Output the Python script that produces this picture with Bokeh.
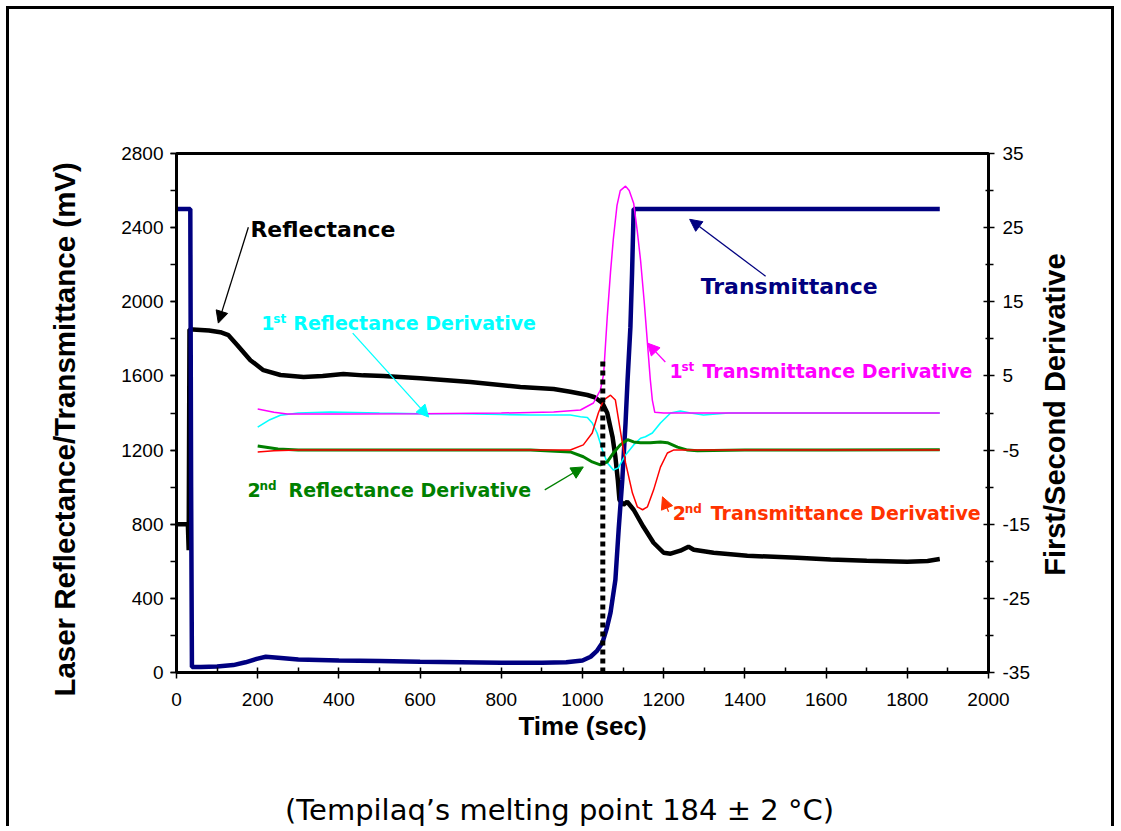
import math
from bokeh.plotting import figure
from bokeh.models import (Range1d, LinearAxis, SingleIntervalTicker, FixedTicker, Label, Arrow,
                          NormalHead, PrintfTickFormatter)
from bokeh.embed import file_html
from bokeh.resources import INLINE

# ---- data ----
time_refl = [0, 28, 30, 32, 40, 80, 108, 128, 150, 182, 214, 256, 313, 360, 411, 460, 510, 601, 724, 847,
             929, 970, 1012, 1030, 1049, 1061, 1074, 1081, 1087, 1091, 1101, 1110, 1126, 1150, 1175, 1200,
             1217, 1241, 1261, 1274, 1323, 1406, 1529, 1611, 1700, 1800, 1850, 1880]
reflectance = [800, 800, 660, 1850, 1850, 1845, 1836, 1820, 1766, 1685, 1631, 1605, 1594, 1600, 1610, 1603,
               1599, 1588, 1567, 1540, 1529, 1515, 1497, 1485, 1454, 1400, 1271, 1163, 1039, 932, 905, 921,
               878, 786, 700, 646, 641, 657, 679, 662, 646, 630, 619, 609, 603, 597, 602, 612]

time_trans = [0, 34, 36, 38, 60, 100, 140, 170, 200, 220, 250, 300, 400, 500, 600, 700, 800, 900, 960, 1000,
              1020, 1035, 1049, 1060, 1069, 1081, 1089, 1098, 1106, 1111, 1118, 1122, 1126, 1880]
transmittance = [2500, 2500, 1000, 30, 30, 32, 40, 55, 75, 85, 80, 70, 65, 62, 58, 55, 52, 52, 55, 65,
                 85, 115, 160, 240, 323, 500, 770, 1039, 1346, 1578, 1863, 2150, 2500, 2500]

time_d1r = [200, 230, 256, 300, 379, 500, 600, 700, 800, 872, 970, 995, 1012, 1024, 1036, 1049, 1061, 1076,
            1088, 1106, 1126, 1143, 1155, 1172, 1192, 1217, 1241, 1266, 1298, 1360, 1500, 1700, 1880]
d1_reflectance = [-1.9, -0.9, -0.3, 0.0, 0.13, 0.0, -0.1, -0.1, -0.2, -0.27, -0.27, -0.5, -0.6, -1.35, -2.7,
                  -5.0, -6.7, -7.7, -7.4, -5.65, -4.3, -3.4, -3.2, -2.7, -1.35, 0.0, 0.27, 0.0, -0.27, 0.0,
                  0.0, 0.0, 0.0]

time_d1t = [200, 240, 273, 400, 600, 800, 929, 995, 1027, 1044, 1052, 1061, 1069, 1076, 1085, 1093, 1106,
            1115, 1126, 1135, 1143, 1152, 1160, 1167, 1172, 1178, 1200, 1400, 1600, 1880]
d1_transmittance = [0.54, 0.1, -0.13, -0.13, -0.1, 0.0, 0.13, 0.4, 1.35, 3.1, 5.2, 13.0, 19.0, 23.5, 28.0,
                    30.0, 30.6, 30.0, 28.3, 24.5, 20.6, 15.0, 9.4, 4.5, 1.75, 0.1, 0.0, 0.0, 0.0, 0.0]

time_d2r = [200, 250, 300, 500, 700, 872, 970, 1002, 1024, 1044, 1061, 1076, 1093, 1111, 1126, 1143, 1167,
            1192, 1209, 1234, 1259, 1283, 1400, 1600, 1880]
d2_reflectance = [-4.44, -4.85, -5.0, -5.0, -5.0, -5.0, -5.25, -5.9, -6.6, -7.0, -6.6, -5.4, -4.3, -3.6,
                  -3.9, -4.0, -4.0, -3.9, -4.0, -4.6, -5.0, -5.1, -5.0, -5.0, -4.95]

time_d2t = [200, 240, 300, 600, 900, 970, 1002, 1024, 1039, 1052, 1069, 1081, 1093, 1106, 1123, 1135, 1148,
            1160, 1175, 1192, 1209, 1224, 1400, 1600, 1880]
d2_transmittance = [-5.25, -5.1, -5.0, -5.0, -5.0, -5.0, -4.3, -2.7, 0.0, 1.75, 2.4, 1.75, -2.3, -6.7,
                    -10.8, -12.65, -13.05, -12.65, -10.4, -7.3, -5.4, -5.0, -5.0, -5.0, -5.0]

melt_time = [1050, 1050]
melt_mark = [0, 1690]

right_ticks = [-35, -25, -15, -5, 5, 15, 25, 35]
right_minor_ticks = [-30, -20, -10, 0, 10, 20, 30]

NBSP = "\u00a0"

# ---- figure ----
p = figure(width=1102, height=817, x_range=Range1d(0, 2000), y_range=Range1d(0, 2800),
           output_backend="svg", toolbar_location=None,
           min_border_left=167, min_border_right=129, min_border_top=144, min_border_bottom=156)
p.extra_y_ranges = {"deriv": Range1d(-35, 35)}
p.styles = {"box-sizing": "content-box", "margin-left": "6px", "margin-top": "6px",
            "border-top": "3px solid black", "border-left": "3px solid black",
            "border-right": "3px solid black"}
p.background_fill_color = "white"
p.border_fill_color = "white"
p.xgrid.visible = False
p.ygrid.visible = False
p.outline_line_color = "black"
p.outline_line_width = 3

TICK_FONT = "Liberation Sans"
ANN_FONT = "DejaVu Sans"

xa = p.xaxis[0]
xa.ticker = SingleIntervalTicker(interval=200, num_minor_ticks=2)
xa.axis_label = "Time (sec)"
xa.axis_label_standoff = 2
xa.major_tick_out = 6
xa.major_tick_in = 0
xa.minor_tick_out = 0
xa.minor_tick_in = 5
xa.major_label_standoff = 14

ya = p.yaxis[0]
ya.ticker = SingleIntervalTicker(interval=400, num_minor_ticks=2)
ya.axis_label = "Laser Reflectance/Transmittance (mV)" + NBSP * 4
ya.axis_label_standoff = 37
ya.major_tick_out = 6
ya.major_tick_in = 0
ya.minor_tick_out = 6
ya.minor_tick_in = 0
ya.major_label_standoff = 7

ra = LinearAxis(y_range_name="deriv", ticker=FixedTicker(ticks=right_ticks, minor_ticks=right_minor_ticks),
                formatter=PrintfTickFormatter(format="%d"))
ra.major_tick_out = 6
ra.major_tick_in = 5
ra.minor_tick_out = 5
ra.minor_tick_in = 3
ra.major_label_standoff = 8
ra.axis_label_standoff = 22
right_title = "First/Second Derivative"
try:
    ra.axis_label_orientation = math.pi / 2
    ra.axis_label_align = "start"
    right_title = NBSP * 12 + right_title
except Exception:
    pass
ra.axis_label = right_title
p.add_layout(ra, "right")

for ax in (xa, ya, ra):
    ax.axis_line_color = "black"
    ax.axis_line_width = 3
    ax.major_tick_line_color = "black"
    ax.major_tick_line_width = 1.5
    ax.minor_tick_line_color = "black"
    ax.minor_tick_line_width = 1.5
    ax.major_label_text_font = TICK_FONT
    ax.major_label_text_font_size = "19px"
    ax.major_label_text_color = "black"
    ax.axis_label_text_font = TICK_FONT
    ax.axis_label_text_font_style = "bold"
    ax.axis_label_text_color = "black"
ya.axis_label_text_font_size = "29.5px"
ra.axis_label_text_font_size = "29px"
xa.axis_label_text_font_size = "26px"

# caption below the chart, carried by a bare extra axis
cap = LinearAxis(ticker=FixedTicker(ticks=[]))
cap.axis_line_color = None
cap.major_tick_line_color = None
cap.minor_tick_line_color = None
cap.major_tick_out = 0
cap.major_tick_in = 0
cap.minor_tick_out = 0
cap.minor_tick_in = 0
cap.major_label_text_font_size = "0px"
cap.major_label_standoff = 0
cap.axis_label = "(Tempilaq\u2019s melting point 184 \u00b1 2 \u00b0C)" + NBSP * 5
cap.axis_label_text_font = ANN_FONT
cap.axis_label_text_font_size = "29px"
cap.axis_label_text_font_style = "normal"
cap.axis_label_text_color = "black"
cap.axis_label_standoff = 49
p.add_layout(cap, "below")

# ---- series ----
p.line(time_refl, reflectance, line_color="black", line_width=4.5)
p.line(time_trans, transmittance, line_color="#000080", line_width=4.5)
p.line(time_d1r, d1_reflectance, line_color="#00FFFF", line_width=1.6, y_range_name="deriv")
p.line(time_d1t, d1_transmittance, line_color="#FF00FF", line_width=1.5, y_range_name="deriv")
p.line(time_d2r, d2_reflectance, line_color="#008000", line_width=3, y_range_name="deriv")
p.line(time_d2t, d2_transmittance, line_color="#FF0000", line_width=1.5, y_range_name="deriv")
p.line(melt_time, melt_mark, line_color="black", line_width=5, line_dash="5 4")

# ---- annotations ----


def add_text(x, y, text, color, size, dx=0, dy=0):
    p.add_layout(Label(x=x, y=y, text=text, text_color=color, text_font=ANN_FONT,
                       text_font_size=f"{size}px", text_font_style="bold",
                       text_baseline="middle", text_align="left", x_offset=dx, y_offset=dy))


def add_arrow(xs, ys, xe, ye, color):
    p.add_layout(Arrow(end=NormalHead(size=12, fill_color=color, line_color=color, line_width=1),
                       x_start=xs, y_start=ys, x_end=xe, y_end=ye,
                       line_color=color, line_width=1.3))


add_text(182, 2391, "Reflectance", "black", 22)
add_arrow(177, 2402, 103, 1885, "black")

add_text(1291, 2084, "Transmittance", "#000080", 22)
add_arrow(1451, 2138, 1264, 2445, "#000080")

add_text(209, 1885, "1", "#00FFFF", 19)
add_text(209, 1885, "st", "#00FFFF", 12, dx=12, dy=4)
add_text(209, 1885, "Reflectance Derivative", "#00FFFF", 19, dx=32)
add_arrow(434, 1831, 621, 1378, "#00FFFF")

add_text(1214, 1626, "1", "#FF00FF", 19)
add_text(1214, 1626, "st", "#FF00FF", 12, dx=12, dy=4)
add_text(1214, 1626, "Transmittance Derivative", "#FF00FF", 19, dx=33)
add_arrow(1204, 1675, 1160, 1777, "#FF00FF")

add_text(175, 985, "2", "#008000", 19)
add_text(175, 985, "nd", "#008000", 12, dx=12, dy=4)
add_text(175, 985, "Reflectance Derivative", "#008000", 19, dx=41)
add_arrow(907, 985, 1002, 1109, "#008000")

add_text(1222, 862, "2", "#FF3300", 19)
add_text(1222, 862, "nd", "#FF3300", 12, dx=12, dy=4)
add_text(1222, 862, "Transmittance Derivative", "#FF3300", 19, dx=38)
add_arrow(1212, 867, 1197, 948, "#FF3300")

open("out.html", "w").write(file_html(p, INLINE))
